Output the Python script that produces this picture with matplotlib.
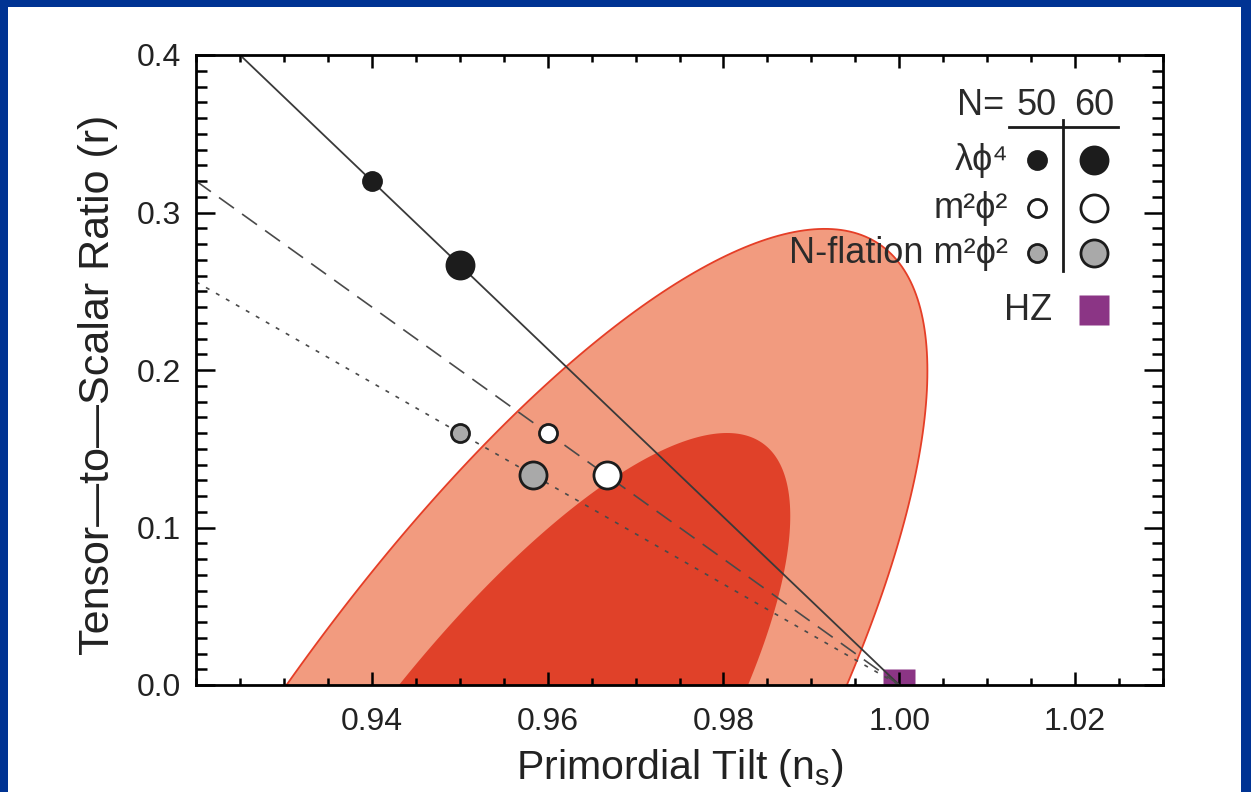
import numpy as np
import matplotlib
matplotlib.use('Agg')
import matplotlib.pyplot as plt
from matplotlib.patches import Rectangle
from matplotlib.ticker import MultipleLocator, FixedLocator

plt.rcParams['font.family'] = ['Liberation Sans', 'DejaVu Sans']

# ---------------- data ----------------
x_limits = (0.92, 1.03)
y_limits = (0.0, 0.4)
x_major_ticks = [0.94, 0.96, 0.98, 1.00, 1.02]
x_tick_labels = ['0.94', '0.96', '0.98', '1.00', '1.02']
y_major_ticks = [0.0, 0.1, 0.2, 0.3, 0.4]
y_tick_labels = ['0.0', '0.1', '0.2', '0.3', '0.4']

# likelihood contours (outer = 95%, inner = 68%), elliptical approximation
contour_ns_center = [0.9496, 0.9516]
contour_r_center = [-0.124, -0.104]
contour_ns_halfwidth = [0.0536, 0.0360]
contour_r_halfheight = [0.4136, 0.2640]
contour_corr = [0.782, 0.80]
contour_colors = ['#F29B7F', '#E04129']

# inflation models
model_names = ['λϕ⁴', 'm²ϕ²', 'N-flation m²ϕ²']
model_ns_N50 = [0.94, 0.96, 0.95]
model_r_N50 = [0.32, 0.16, 0.16]
model_ns_N60 = [0.95, 0.9667, 0.9583]
model_r_N60 = [0.2667, 0.1333, 0.1333]
model_line_ns = [[0.92, 1.00], [0.92, 1.00], [0.92, 1.00]]
model_line_r = [[0.4267, 0.0], [0.32, 0.0], [0.256, 0.0]]
model_fill = ['#1c1c1c', '#ffffff', '#a9a9a9']
N_values = ['50', '60']

hz_ns = [1.0]
hz_r = [0.0]
hz_color = '#8B3585'

# ---------------- figure ----------------
fig = plt.figure(figsize=(12.51, 7.92), dpi=100)
fig.patch.set_facecolor('#003393')
fig.patches.append(Rectangle((8 / 1251, 0), (1241 - 8) / 1251, (792 - 7) / 792,
                             transform=fig.transFigure, facecolor='white',
                             edgecolor='none', zorder=-10))

ax = fig.add_axes([196 / 1251, 1 - 685 / 792, (1163 - 196) / 1251, (685 - 55) / 792])
ax.set_zorder(5)
ax.set_facecolor('white')

# contours
t = np.linspace(0, 2 * np.pi, 400)
for i in range(2):
    rho = contour_corr[i]
    xs = contour_ns_center[i] + contour_ns_halfwidth[i] * np.cos(t)
    ys = contour_r_center[i] + contour_r_halfheight[i] * (rho * np.cos(t) + np.sqrt(1 - rho ** 2) * np.sin(t))
    if i == 0:
        ax.fill(xs, ys, facecolor=contour_colors[i], edgecolor='#E53E27', lw=1.3, zorder=1)
    else:
        ax.fill(xs, ys, facecolor=contour_colors[i], edgecolor='none', zorder=1.1)

# HZ point
ax.plot(hz_ns, hz_r, 's', ms=23.5, color=hz_color, mec='none', zorder=1.5)

# model lines
line_styles = [dict(color='#3a3a3a', lw=1.3, ls='-'),
               dict(color='#4a4a4a', lw=1.2, dashes=(11, 6)),
               dict(color='#4a4a4a', lw=1.2, dashes=(2.4, 4.5))]
for i in range(3):
    ax.plot(model_line_ns[i], model_line_r[i], zorder=2, **line_styles[i])

# model points
for i in range(3):
    ax.plot(model_ns_N50[i], model_r_N50[i], 'o', ms=13, mew=2.0, mfc=model_fill[i],
            mec='#1c1c1c', zorder=3)
    ax.plot(model_ns_N60[i], model_r_N60[i], 'o', ms=19.5, mew=2.0, mfc=model_fill[i],
            mec='#1c1c1c', zorder=3)

ax.set_xlim(*x_limits)
ax.set_ylim(*y_limits)

ax.xaxis.set_major_locator(FixedLocator(x_major_ticks))
ax.set_xticklabels(x_tick_labels)
ax.xaxis.set_minor_locator(MultipleLocator(0.005))
ax.yaxis.set_major_locator(FixedLocator(y_major_ticks))
ax.set_yticklabels(y_tick_labels)
ax.yaxis.set_minor_locator(MultipleLocator(0.01))

ax.tick_params(axis='both', which='both', direction='in', top=True, right=True,
               colors='black', labelcolor='#222222', width=1.8)
ax.tick_params(axis='x', which='major', length=9.4, pad=16, labelsize=23)
ax.tick_params(axis='x', which='minor', length=5)
ax.tick_params(axis='y', which='major', length=14, pad=11, labelsize=23)
ax.tick_params(axis='y', which='minor', length=7.7)
for s in ax.spines.values():
    s.set_linewidth(2.0)
    s.set_color('black')
    s.set_zorder(5)

ax.set_xlabel('Primordial Tilt (n$_\\mathregular{s}$)', fontsize=29.5, color='#222222', labelpad=7)
ax.set_ylabel('Tensor—to—Scalar Ratio (r)', fontsize=31, color='#222222')
ax.yaxis.set_label_coords((118 - 196) / 967.0, (685 - 385) / 630.0)

# ---------------- custom legend (axes coordinates) ----------------
def fx(px):
    return (px - 196) / 967.0

def fy(py):
    return (685 - py) / 630.0

tr = ax.transAxes
lg_text = dict(transform=tr, fontsize=26, color='#2a2a2a', zorder=6, clip_on=False)
ax.text(fx(1004), fy(105), 'N=', ha='right', va='center', **lg_text)
col_x = [fx(1037), fx(1094)]
for j in range(2):
    ax.text(col_x[j], fy(105), N_values[j], ha='center', va='center', **lg_text)
ax.plot([fx(1009), fx(1118)], [fy(127), fy(127)], color='#1a1a1a', lw=2.0,
        transform=tr, clip_on=False, zorder=6)
ax.plot([fx(1063), fx(1063)], [fy(120), fy(271)], color='#1a1a1a', lw=2.0,
        transform=tr, clip_on=False, zorder=6)
row_y = [fy(160), fy(208), fy(253)]
for i in range(3):
    ax.text(fx(1008), row_y[i], model_names[i], ha='right', va='center', **lg_text)
    ax.plot([col_x[0]], [row_y[i]], 'o', ms=13, mew=2.0, mfc=model_fill[i], mec='#1c1c1c',
            transform=tr, clip_on=False, zorder=7)
    ax.plot([col_x[1]], [row_y[i]], 'o', ms=19.5, mew=2.0, mfc=model_fill[i], mec='#1c1c1c',
            transform=tr, clip_on=False, zorder=7)
ax.text(fx(1052), fy(310), 'HZ', ha='right', va='center', **lg_text)
ax.plot([col_x[1]], [fy(310)], 's', ms=21.5, color=hz_color, mec='none',
        transform=tr, clip_on=False, zorder=7)

fig.savefig('out.png', dpi=100, facecolor=fig.get_facecolor())
